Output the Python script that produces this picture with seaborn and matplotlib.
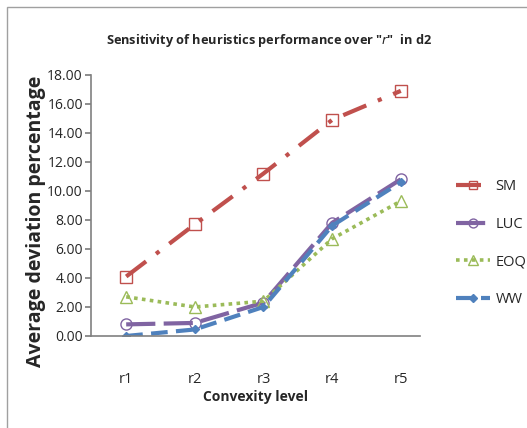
import matplotlib
matplotlib.use("Agg")
import matplotlib.pyplot as plt
import seaborn as sns
import pandas as pd
from matplotlib.patches import Rectangle

categories = ["r1", "r2", "r3", "r4", "r5"]
sm = [4.1, 7.7, 11.2, 14.9, 16.9]
luc = [0.8, 0.9, 2.3, 7.8, 10.8]
eoq = [2.7, 2.0, 2.4, 6.7, 9.3]
ww = [0.0, 0.45, 2.0, 7.6, 10.6]
yticks = [0, 2, 4, 6, 8, 10, 12, 14, 16, 18]

sns.set_theme(style="white")
plt.rcParams['font.family'] = ['Open Sans', 'DejaVu Sans']

fig = plt.figure(figsize=(5.27, 4.28), dpi=100)
ax = fig.add_axes([0.173, 0.215, 0.624, 0.61])

series = [
    ("SM", sm, "#C0504D", (0, (6, 3, 1, 3)), "s", "none", 3.0, 8),
    ("LUC", luc, "#8064A2", (0, (7, 2)), "o", "none", 3.0, 8),
    ("EOQ", eoq, "#9BBB59", (0, (1, 1.2)), "^", "none", 2.6, 9),
    ("WW", ww, "#4F81BD", (0, (4, 2)), "D", "#4F81BD", 3.0, 4.5),
]
for name, vals, color, ls, mk, mfc, lw, ms in series:
    df = pd.DataFrame({"cat": categories, "val": vals})
    sns.lineplot(data=df, x="cat", y="val", ax=ax, color=color, linestyle=ls,
                 linewidth=lw, marker=mk, markersize=ms,
                 markerfacecolor=mfc, markeredgecolor=color,
                 markeredgewidth=1.0, label=name, sort=False)

ax.set_xlim(-0.51, 4.28)
ax.set_ylim(0, 18)
ax.set_yticks(yticks)
ax.set_yticklabels([f"{v:.2f}" for v in yticks], fontsize=10)
ax.tick_params(axis="y", left=True, length=4, color="#808080", pad=2)
ax.tick_params(axis="x", bottom=False, labelsize=10.5, pad=20)
for s in ["top", "right"]:
    ax.spines[s].set_visible(False)
for s in ["left", "bottom"]:
    ax.spines[s].set_color("#808080")
    ax.spines[s].set_linewidth(1.2)

ax.set_xlabel("Convexity level", fontsize=10, fontweight="bold", labelpad=2)
ax.set_ylabel("Average deviation percentage", fontsize=14, fontweight="bold")
ax.yaxis.set_label_coords(-0.137, 0.44)
fig.suptitle('Sensitivity of heuristics performance over "$r$"  in d2', x=0.51, y=0.925,
             fontsize=9.2, fontweight="bold")

leg = ax.legend(loc="center left", bbox_to_anchor=(1.11, 0.356), frameon=False,
                fontsize=10.5, labelspacing=1.55, handlelength=2.3, handletextpad=0.4,
                borderaxespad=0, markerscale=0.8, borderpad=0)

fig.patches.append(Rectangle((7/527, -0.1), 1.2, 1 - 7/428 + 0.1, transform=fig.transFigure,
                             fill=False, edgecolor="#A0A0A0", linewidth=1.0))

fig.savefig("out.png", dpi=100)
